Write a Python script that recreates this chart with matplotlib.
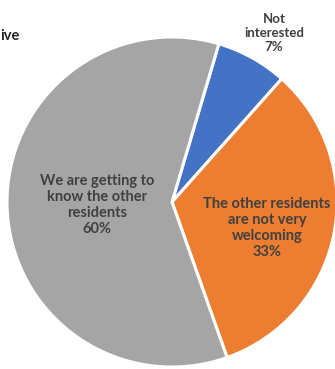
import matplotlib
matplotlib.use("Agg")
from matplotlib import pyplot as plt

# slice data, clockwise from the blue slice
categories = ["Not\ninterested", "The other residents\nare not very\nwelcoming",
              "We are getting to\nknow the other\nresidents"]
shares = [7, 33, 60]
colours = ["#4472C4", "#ED7D31", "#A5A5A5"]

W, H = 335, 369
fig = plt.figure(figsize=(W / 100, H / 100), dpi=100)
ax = fig.add_axes([0, 0, 1, 1])

cx, cy, r = 172, H - 202, 165
ax.pie(shares, colors=colours, startangle=73.5, counterclock=False,
       center=(cx, cy), radius=r,
       wedgeprops=dict(edgecolor="white", linewidth=2.2))
ax.set_xlim(0, W)
ax.set_ylim(0, H)
ax.set_aspect("equal")
ax.axis("off")

# label positions in pixels (x, y from top)
label_pos = [(274, 33), (267, 228), (97, 205)]
sizes = [9.5, 10.5, 10.5]
for name, val, (x, y), fs in zip(categories, shares, label_pos, sizes):
    ax.text(x, H - y, "{}\n{}%".format(name, val), ha="center", va="center",
            fontsize=fs, fontweight="bold", color="#404040",
            family="Lato", linespacing=1.2)

fig.text(0, 1 - 36 / H, "ive", ha="left", va="center", fontsize=10.5,
         fontweight="bold", color="#262626", family="Lato")

fig.savefig("out.png", dpi=100)
